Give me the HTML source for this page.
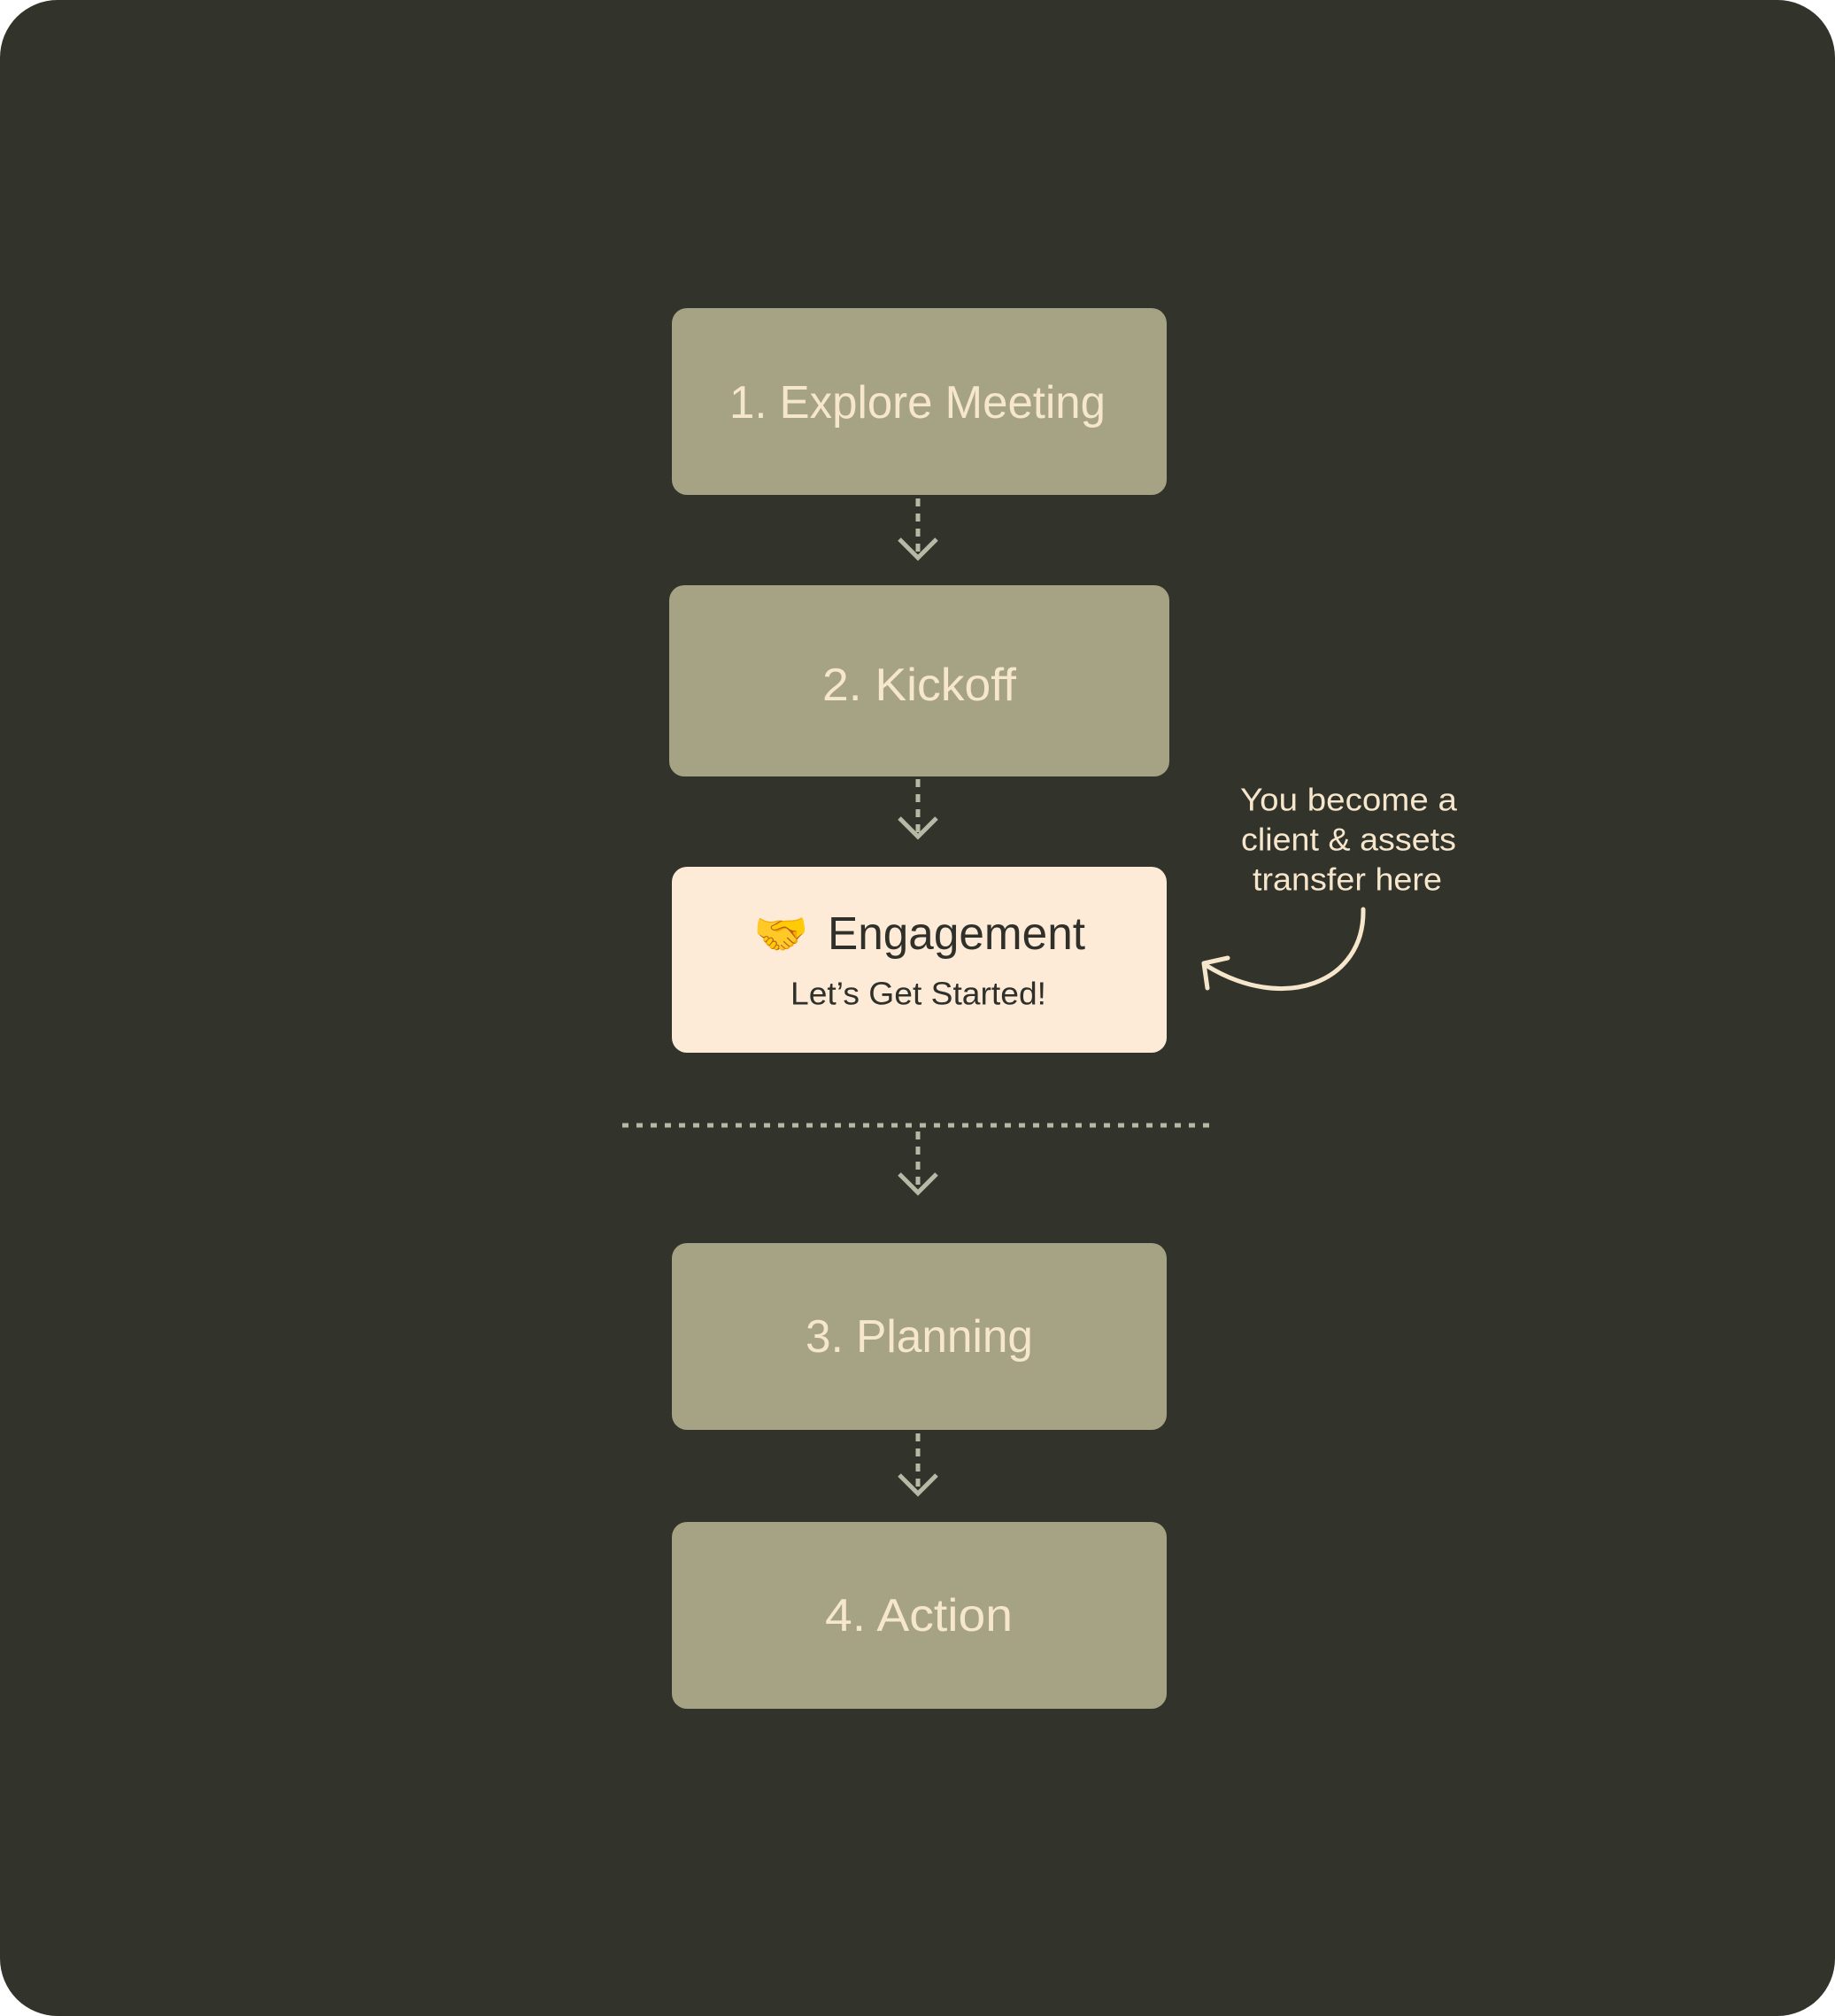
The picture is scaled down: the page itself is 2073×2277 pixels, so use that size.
<!DOCTYPE html>
<html><head><meta charset="utf-8"><style>
html,body{margin:0;padding:0;background:#fff;}
svg{display:block;}
text{font-family:"Liberation Sans","DejaVu Sans",sans-serif;}
</style></head><body>
<svg width="2073" height="2277" viewBox="0 0 2073 2277" xmlns="http://www.w3.org/2000/svg">
<rect x="0" y="0" width="2073" height="2277" rx="65" fill="#32332b"/>
<g fill="#a5a383">
<rect x="759" y="348" width="559" height="211" rx="17"/>
<rect x="756" y="661" width="565" height="216" rx="17"/>
<rect x="759" y="1404" width="559" height="211" rx="17"/>
<rect x="759" y="1719" width="559" height="211" rx="17"/>
</g>
<rect x="759" y="979" width="559" height="210" rx="17" fill="#fdebd8"/>
<g fill="#f6e6cc" font-size="52" dominant-baseline="central">
<text x="824" y="455" textLength="425" lengthAdjust="spacingAndGlyphs">1.  Explore Meeting</text>
<text x="929" y="774" textLength="219" lengthAdjust="spacingAndGlyphs">2.  Kickoff</text>
<text x="910" y="1510" textLength="257" lengthAdjust="spacingAndGlyphs">3.  Planning</text>
<text x="932" y="1825" textLength="212" lengthAdjust="spacingAndGlyphs">4.  Action</text>
</g>
<text x="851" y="1055" font-size="50" dominant-baseline="central" font-family="'Noto Color Emoji','DejaVu Sans',sans-serif">🤝</text>
<text x="935" y="1055" font-size="52" fill="#2f3029" dominant-baseline="central" textLength="291" lengthAdjust="spacingAndGlyphs">Engagement</text>
<text x="893" y="1122" font-size="36" fill="#2f3029" dominant-baseline="central" textLength="289" lengthAdjust="spacingAndGlyphs">Let’s Get Started!</text>
<g fill="#f6e6cc" font-size="36" dominant-baseline="central">
<text x="1401" y="903" textLength="245" lengthAdjust="spacingAndGlyphs">You become a</text>
<text x="1402" y="948" textLength="243" lengthAdjust="spacingAndGlyphs">client &amp; assets</text>
<text x="1415" y="993" textLength="214" lengthAdjust="spacingAndGlyphs">transfer here</text>
</g>
<g stroke="#b6b9a6" stroke-width="5" fill="none">
<line x1="1037" y1="563" x2="1037" y2="628" stroke-dasharray="9,8"/>
<polyline points="1016,609 1037,630 1058,609"/>
<line x1="1037" y1="880" x2="1037" y2="943" stroke-dasharray="9,8"/>
<polyline points="1016,924 1037,945 1058,924"/>
<line x1="1037" y1="1278" x2="1037" y2="1345" stroke-dasharray="9,8"/>
<polyline points="1016,1326 1037,1347 1058,1326"/>
<line x1="1037" y1="1619" x2="1037" y2="1685" stroke-dasharray="9,8"/>
<polyline points="1016,1666 1037,1687 1058,1666"/>
<line x1="703" y1="1271" x2="1372" y2="1271" stroke-dasharray="7,9"/>
</g>
<g stroke="#f6e6cc" stroke-width="5" fill="none" stroke-linecap="round" stroke-linejoin="round">
<path d="M1540,1027 C1542,1110 1450,1145 1362,1090"/>
<polyline points="1387,1082 1360,1088 1364,1116"/>
</g>
</svg>
</body></html>
